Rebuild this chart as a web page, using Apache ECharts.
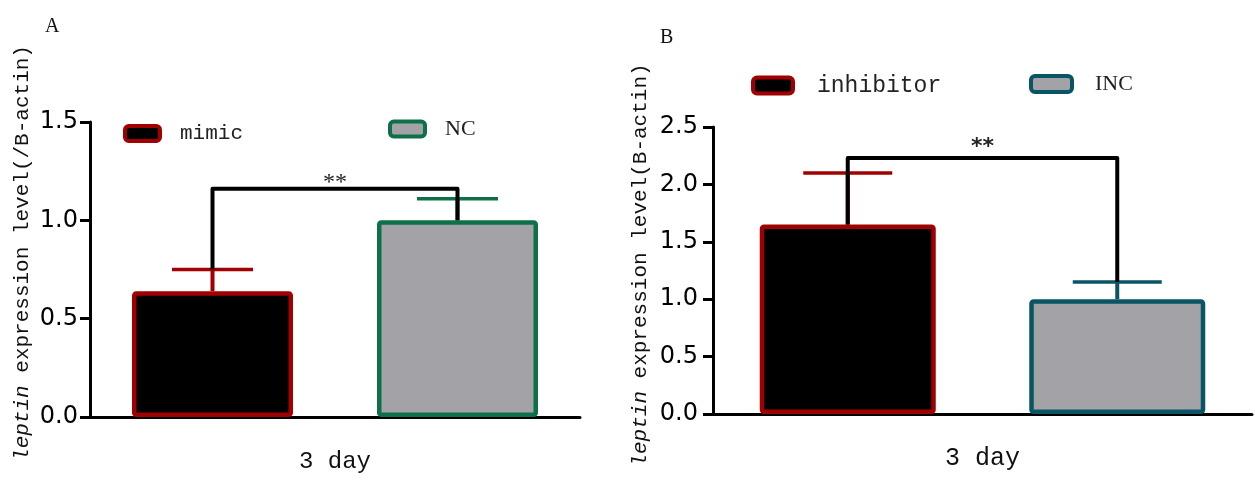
<!DOCTYPE html>
<html>
<head>
<meta charset="utf-8">
<script src="https://cdn.jsdelivr.net/npm/echarts@6/dist/echarts.min.js"></script>
<style>html,body{margin:0;padding:0;background:#fff}#c{width:1255px;height:486px}</style>
</head>
<body>
<div id="c"></div>
<script>
// ---- data ----
const groupsA = ['mimic', 'NC'];
const meanA = [0.64, 1.00];
const sdA = [0.11, 0.11];
const bracketA = [1.16, 0.75, 1.00];   // bracket level, left leg end, right leg end
const yMaxA = 1.5;

const groupsB = ['inhibitor', 'INC'];
const meanB = [1.65, 1.00];
const sdB = [0.45, 0.15];
const bracketB = [2.23, 1.65, 1.15];
const yMaxB = 2.5;

const yInterval = 0.5;
const xLabel = '3 day';
const sigText = '**';
const panelLabels = ['A', 'B'];
const yNameA = ['leptin', ' expression level(/B-actin)'];
const yNameB = ['leptin', ' expression level(B-actin)'];

// ---- styles ----
const RED = '#a20000', GREEN = '#0d7048', TEAL = '#0a5565';
const fillCols = ['#000000', '#a3a2a7'];
const borderA = [RED, GREEN];
const borderB = [RED, TEAL];
const MONO = '"Liberation Mono", "DejaVu Sans Mono", monospace';
const SERIF = '"Liberation Serif", serif';
const TICKF = '"DejaVu Sans", sans-serif';

const chart = echarts.init(document.getElementById('c'), null, {renderer: 'canvas'});

function xAxisCfg(grid, groups, fs, gap) {
  return {
    type: 'category', gridIndex: grid, data: groups,
    boundaryGap: true,
    axisLine: {lineStyle: {color: '#000', width: 3}},
    axisTick: {alignWithLabel: true, length: 9, lineStyle: {color: '#000', width: 3}},
    axisLabel: {show: false},
    name: xLabel, nameLocation: 'middle', nameGap: gap,
    nameTextStyle: {fontFamily: MONO, fontSize: fs, color: '#111'}
  };
}
function yAxisCfg(grid, max, margin) {
  return {
    type: 'value', gridIndex: grid, min: 0, max: max, interval: yInterval,
    splitLine: {show: false},
    axisLine: {show: true, lineStyle: {color: '#000', width: 3}},
    axisTick: {show: true, length: 10, lineStyle: {color: '#000', width: 3}},
    axisLabel: {margin: margin, fontFamily: TICKF, fontSize: 24, color: '#000',
      formatter: v => v.toFixed(1)}
  };
}
function barSeries(name, grid, idx, value, border, bw) {
  const data = [ '-', '-' ];
  data[idx] = value;
  return {
    type: 'bar', name: name, xAxisIndex: grid, yAxisIndex: grid,
    data: data, barWidth: bw, barGap: '-100%', z: 2,
    itemStyle: {color: fillCols[idx], borderColor: border, borderWidth: 4.5, borderRadius: 2}
  };
}
function errSeries(grid, means, sds, cols, capHalf) {
  return {
    type: 'custom', xAxisIndex: grid, yAxisIndex: grid, z: 3, silent: true,
    data: means.map((m, i) => [i, m, m + sds[i]]),
    encode: {x: 0, y: [1, 2]},
    renderItem: function (params, api) {
      const i = api.value(0);
      const b = api.coord([i, api.value(1)]);
      const t = api.coord([i, api.value(2)]);
      return {type: 'group', children: [
        {type: 'line', shape: {x1: t[0], y1: b[1], x2: t[0], y2: t[1]}, style: {stroke: cols[i], lineWidth: 4}},
        {type: 'line', shape: {x1: t[0] - capHalf, y1: t[1], x2: t[0] + capHalf, y2: t[1]}, style: {stroke: cols[i], lineWidth: 3.5}}
      ]};
    }
  };
}
function bracketSeries(grid, br, font, dy) {
  return {
    type: 'custom', xAxisIndex: grid, yAxisIndex: grid, z: 4, silent: true,
    data: [[0, br[0], br[1], br[2]]],
    encode: {x: 0, y: [1, 2, 3]},
    renderItem: function (params, api) {
      const l0 = api.coord([0, api.value(2)]);
      const lt = api.coord([0, api.value(1)]);
      const rt = api.coord([1, api.value(1)]);
      const r0 = api.coord([1, api.value(3)]);
      return {type: 'group', children: [
        {type: 'polyline', shape: {points: [l0, lt, rt, r0]},
         style: {stroke: '#000', lineWidth: 4, fill: null, lineJoin: 'round'}},
        {type: 'text', x: (lt[0] + rt[0]) / 2, y: lt[1] + dy,
         style: {text: sigText, font: font, fill: '#222', align: 'center', verticalAlign: 'middle'}}
      ]};
    }
  };
}
function legendCfg(name, left, top, w, h, fs, fam, pad) {
  return {
    data: [name], left: left, top: top, padding: 0, orient: 'horizontal',
    icon: 'roundRect', itemWidth: w, itemHeight: h, selectedMode: false,
    itemStyle: {borderWidth: 4, borderColor: 'inherit'},
    textStyle: {fontFamily: fam, fontSize: fs, color: '#222', padding: [0, 0, 0, pad]}
  };
}

const option = {
  animation: false,
  backgroundColor: '#fff',
  title: [
    {text: panelLabels[0], left: 40, top: 12, textStyle: {fontFamily: SERIF, fontSize: 20, fontWeight: 'normal', color: '#111'}},
    {text: panelLabels[1], left: 655, top: 23, textStyle: {fontFamily: SERIF, fontSize: 20, fontWeight: 'normal', color: '#111'}}
  ],
  grid: [
    {left: 90, top: 122, width: 490, height: 295, containLabel: false},
    {left: 713, top: 127, width: 539, height: 287, containLabel: false}
  ],
  legend: [
    legendCfg(groupsA[0], 123, 123, 35, 15, 21, MONO, 15),
    legendCfg(groupsA[1], 388, 118, 35, 15, 22, SERIF, 15),
    legendCfg(groupsB[0], 751, 74, 40, 16, 23, MONO, 19),
    legendCfg(groupsB[1], 1029, 73, 41, 16, 22, SERIF, 18)
  ],
  xAxis: [xAxisCfg(0, groupsA, 24, 33), xAxisCfg(1, groupsB, 25, 32)],
  yAxis: [yAxisCfg(0, yMaxA, 12), yAxisCfg(1, yMaxB, 15)],
  graphic: [
    {type: 'text', x: 22, y: 253, rotation: Math.PI / 2,
     style: {text: '{i|' + yNameA[0] + '}' + yNameA[1], x: 0, y: 0, align: 'center', verticalAlign: 'middle',
       font: '21px ' + MONO, fill: '#111',
       rich: {i: {fontStyle: 'italic', fontFamily: MONO, fontSize: 21, fill: '#111'}}}},
    {type: 'text', x: 640, y: 265, rotation: Math.PI / 2,
     style: {text: '{i|' + yNameB[0] + '}' + yNameB[1], x: 0, y: 0, align: 'center', verticalAlign: 'middle',
       font: '21px ' + MONO, fill: '#111',
       rich: {i: {fontStyle: 'italic', fontFamily: MONO, fontSize: 21, fill: '#111'}}}}
  ],
  series: [
    barSeries(groupsA[0], 0, 0, meanA[0], borderA[0], 161),
    barSeries(groupsA[1], 0, 1, meanA[1], borderA[1], 161),
    barSeries(groupsB[0], 1, 0, meanB[0], borderB[0], 176),
    barSeries(groupsB[1], 1, 1, meanB[1], borderB[1], 176),
    errSeries(0, meanA, sdA, borderA, 40.5),
    errSeries(1, meanB, sdB, borderB, 44.5),
    bracketSeries(0, bracketA, '24px ' + SERIF, -6),
    bracketSeries(1, bracketB, 'bold 22px ' + TICKF, -11)
  ]
};
chart.setOption(option);
</script>
</body>
</html>
